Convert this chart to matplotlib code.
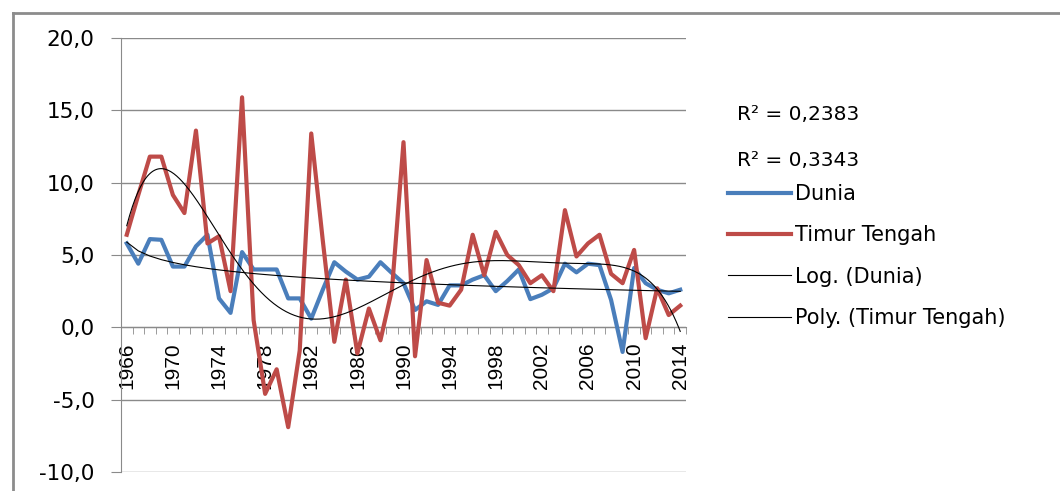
import numpy as np
import matplotlib
matplotlib.use("Agg")
import matplotlib.pyplot as plt
from matplotlib.lines import Line2D
from matplotlib.ticker import FuncFormatter

plt.rcParams['axes.unicode_minus'] = False

# data
years = np.arange(1966, 2015)
dunia = [5.8, 4.4, 6.1, 6.05, 4.2, 4.2, 5.6, 6.4, 2.0, 1.0,
         5.2, 4.0, 4.0, 4.0, 2.0, 2.0, 0.6, 2.6, 4.5, 3.85,
         3.3, 3.5, 4.5, 3.75, 3.05, 1.2, 1.8, 1.55, 2.9, 2.9,
         3.3, 3.6, 2.5, 3.2, 4.0, 1.95, 2.25, 2.7, 4.4, 3.8,
         4.4, 4.3, 1.9, -1.7, 4.1, 3.05, 2.6, 2.35, 2.6]
timur = [6.4, 9.15, 11.8, 11.8, 9.15, 7.9, 13.6, 5.8, 6.3, 2.5,
         15.9, 0.5, -4.6, -2.9, -6.9, -1.6, 13.4, 6.0, -1.0, 3.3,
         -1.8, 1.3, -0.9, 2.6, 12.8, -2.0, 4.65, 1.7, 1.5, 2.6,
         6.4, 3.6, 6.6, 5.0, 4.3, 3.05, 3.6, 2.5, 8.1, 4.9,
         5.8, 6.4, 3.7, 3.05, 5.35, -0.75, 2.7, 0.85, 1.5]
r2_labels = ["R² = 0,2383", "R² = 0,3343"]

# trendlines as excel does them (x = 1..n)
t = np.arange(1, len(years) + 1)
a, b = np.polyfit(np.log(t), dunia, 1)
log_trend = a * np.log(t) + b
poly = np.polynomial.Polynomial.fit(t, timur, 6)
tt = np.linspace(1, len(years), 400)
poly_trend = poly(tt)

fig = plt.figure(figsize=(10.6, 4.91), dpi=100)
ax = fig.add_axes([121/1060, 19/491, 565/1060, 434/491])

ax.plot(years, dunia, color='#4A7EBB', lw=3, solid_joinstyle='round', label='Dunia', zorder=3)
ax.plot(years, timur, color='#BE4B48', lw=3, solid_joinstyle='round', label='Timur Tengah', zorder=3)
ax.plot(years, log_trend, color='black', lw=0.8, label='Log. (Dunia)', zorder=4)
ax.plot(tt + 1965, poly_trend, color='black', lw=0.8, label='Poly. (Timur Tengah)', zorder=4)

ax.set_xlim(1965.5, 2014.5)
ax.set_ylim(-10, 20)
ax.set_yticks(np.arange(-10, 21, 5))
ax.yaxis.set_major_formatter(FuncFormatter(lambda v, p: ('%.1f' % v).replace('.', ',')))
ax.grid(axis='y', color='#8a8a8a', lw=1)
ax.set_axisbelow(True)

for s in ['top', 'right']:
    ax.spines[s].set_visible(False)
ax.spines['bottom'].set_position(('data', 0))
ax.spines['bottom'].set_color('#8a8a8a')
ax.spines['left'].set_color('#8a8a8a')

ax.set_xticks(years[::4])
ax.set_xticklabels([str(y) for y in years[::4]], rotation=90,
                   family='Liberation Sans', fontsize=15)
ax.set_xticks(np.arange(1965.5, 2015, 1), minor=True)
ax.tick_params(axis='x', which='major', length=0, pad=11)
ax.tick_params(axis='x', which='minor', length=5, color='#8a8a8a', direction='out')
ax.tick_params(axis='y', length=7, color='#8a8a8a', pad=12, labelsize=15.5)

fig.legend(loc='center left', bbox_to_anchor=(728/1060, 1 - 256/491), frameon=False,
           fontsize=15, handlelength=3.0, handletextpad=0.2, labelspacing=1.02,
           borderpad=0, borderaxespad=0)

fig.text(737/1060, 1 - 115/491, r2_labels[0], fontsize=14.5, va='center', ha='left')
fig.text(737/1060, 1 - 161/491, r2_labels[1], fontsize=14.5, va='center', ha='left')

# chart area border (cropped on right and bottom)
fig.add_artist(Line2D([13/1060, 13/1060], [0, 1 - 13/491], transform=fig.transFigure, color='#8c8c8c', lw=2))
fig.add_artist(Line2D([13/1060, 1], [1 - 13/491, 1 - 13/491], transform=fig.transFigure, color='#8c8c8c', lw=2))

plt.savefig('out.png', dpi=100)
